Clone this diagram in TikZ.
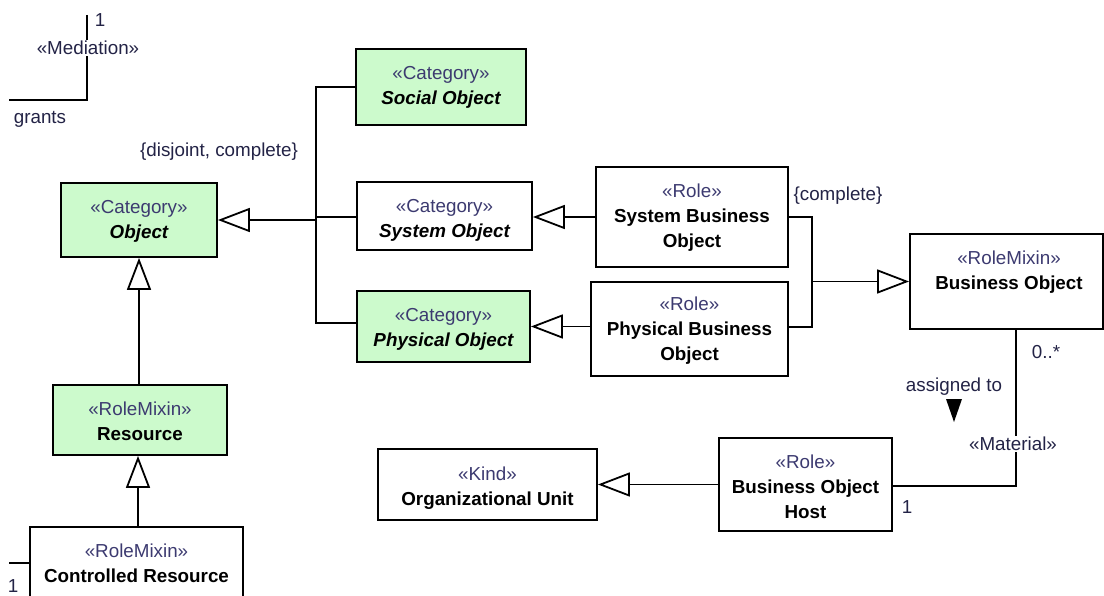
\documentclass[tikz,border=0pt]{standalone}
\usepackage{fontspec}
\setmainfont{Liberation Sans}
\usetikzlibrary{arrows.meta}
\definecolor{clsgreen}{RGB}{204,250,204}
\definecolor{sttext}{RGB}{60,58,112}
\definecolor{lbltext}{RGB}{35,35,70}
\tikzset{
  cls/.style={draw, line width=1.8pt, inner sep=0pt, rectangle},
  grn/.style={fill=clsgreen},
  st/.style={font=\fontsize{18.8}{22}\selectfont, text=sttext, anchor=base, inner sep=0pt},
  nm/.style={font=\fontsize{18.8}{22}\selectfont\bfseries, anchor=base, inner sep=0pt},
  ab/.style={font=\fontsize{18.8}{22}\selectfont\bfseries\itshape, anchor=base, inner sep=0pt},
  lbl/.style={font=\fontsize{18.8}{22}\selectfont, text=lbltext, inner sep=1pt},
  ln/.style={line width=1.8pt},
  gen/.style={line width=1.8pt, -{Triangle[open, length=32pt, width=24pt]}},
}
\begin{document}
\begin{tikzpicture}[x=1pt,y=-1pt]
\useasboundingbox (0,0) rectangle (1104,596);
\clip (0,0) rectangle (1104,596);
\fill[white] (0,0) rectangle (1104,596);

% boxes
\node[cls,grn,minimum width=170pt,minimum height=76pt] (social) at (441,87) {};
\node[cls,grn,minimum width=156pt,minimum height=74pt] (obj) at (139,220) {};
\node[cls,minimum width=175pt,minimum height=68pt] (sysobj) at (444.5,216) {};
\node[cls,grn,minimum width=173pt,minimum height=71pt] (physobj) at (443.5,326.5) {};
\node[cls,minimum width=192pt,minimum height=100pt] (sbo) at (692,217) {};
\node[cls,minimum width=197pt,minimum height=94pt] (pbo) at (689.5,329) {};
\node[cls,minimum width=193pt,minimum height=95pt] (bo) at (1006.5,281.5) {};
\node[cls,grn,minimum width=174pt,minimum height=70pt] (res) at (140,420) {};
\node[cls,minimum width=213pt,minimum height=93pt] (cres) at (136.5,573.5) {};
\node[cls,minimum width=219pt,minimum height=71pt] (org) at (487.5,484.5) {};
\node[cls,minimum width=173pt,minimum height=93pt] (boh) at (805.5,484.5) {};

% texts (baselines: stereotype top+30.5, name top+55.5, third top+80.5)
\node[st] (socialS) at (441,79.5) {«Category»};
\node[ab] (socialN) at (441,104.5) {Social Object};
\node[st] (objS) at (139,213.5) {«Category»};
\node[ab] (objN) at (139,238.5) {Object};
\node[st] (sysobjS) at (444.5,212.5) {«Category»};
\node[ab] (sysobjN) at (444.5,237.5) {System Object};
\node[st] (physobjS) at (443.5,321.5) {«Category»};
\node[ab] (physobjN) at (443.5,346.5) {Physical Object};
\node[st] (sboS) at (692,197.5) {«Role»};
\node[nm] (sboN1) at (692,222.5) {System Business};
\node[nm] (sboN2) at (692,247.5) {Object};
\node[st] (pboS) at (689.5,310.5) {«Role»};
\node[nm] (pboN1) at (689.5,335.5) {Physical Business};
\node[nm] (pboN2) at (689.5,360.5) {Object};
\node[st] (boS) at (1009,264.5) {«RoleMixin»};
\node[nm] (boN) at (1009,289.5) {Business Object};
\node[st] (resS) at (140,415.5) {«RoleMixin»};
\node[nm] (resN) at (140,440.5) {Resource};
\node[st] (cresS) at (136.5,557.5) {«RoleMixin»};
\node[nm] (cresN) at (136.5,582.5) {Controlled Resource};
\node[st] (orgS) at (487.5,480.5) {«Kind»};
\node[nm] (orgN) at (487.5,505.5) {Organizational Unit};
\node[st] (bohS) at (805.5,468.5) {«Role»};
\node[nm] (bohN1) at (805.5,493.5) {Business Object};
\node[nm] (bohN2) at (805.5,518.5) {Host};

% generalization set Object
\coordinate (gA) at (316,87);
\coordinate (gB) at (316,323);
\coordinate (gC) at (316,220);
\draw[ln] (social.west) -- (gA) -- (gB) -- (physobj.west |- gB);
\draw[ln] (sysobj.west |- 0,217) -- (gC |- 0,217);
\draw[gen] (gC) -- (obj.east);
\node[lbl] (djc) at (219,152) {\{disjoint, complete\}};

% role -> category
\draw[gen] (sbo.west) -- (sbo.west -| sysobj.east);
\draw[gen] (pbo.west |- physobj.east) -- (physobj.east);

% generalization set Business Object
\coordinate (hA) at (812,217);
\coordinate (hB) at (812,327);
\coordinate (hC) at (812,281.5);
\draw[ln] (sbo.east |- hA) -- (hA) -- (hB) -- (pbo.east |- hB);
\draw[gen] (hC) -- (bo.west);
\node[lbl] (cmp) at (838,196) {\{complete\}};

% vertical generalizations
\draw[gen] (res.north -| obj.south) -- (obj.south);
\draw[gen] (cres.north -| 138,0) -- (res.south -| 138,0);

% BOH -> Org
\draw[gen] (boh.west) -- (org.east);

% Material
\coordinate (m1) at (1016,486);
\draw[ln] (bo.south -| m1) -- (m1) -- (boh.east |- m1);
\node[lbl,fill=white] (mat) at (1013,444) {«Material»};
\node[lbl] (mult1) at (1046,352) {0..*};
\node[lbl] (mult2) at (907,507) {1};
\node[lbl] (asg) at (954,387) {assigned to};
\fill (946,399) -- (962,399) -- (954,422) -- cycle;

% Mediation
\coordinate (med1) at (87,15);
\coordinate (med2) at (87,100);
\coordinate (med3) at (9,100);
\draw[ln] (med1) -- (med2) -- (med3);
\node[lbl,fill=white] (medL) at (88,48) {«Mediation»};
\node[lbl] (med1L) at (100,20) {1};
\node[lbl] (grants) at (40,119) {grants};

% Controlled resource link
\coordinate (cr1) at (9,563);
\draw[ln] (cr1) -- (cres.west |- cr1);
\node[lbl] (cr1L) at (13,586) {1};
\end{tikzpicture}
\end{document}
